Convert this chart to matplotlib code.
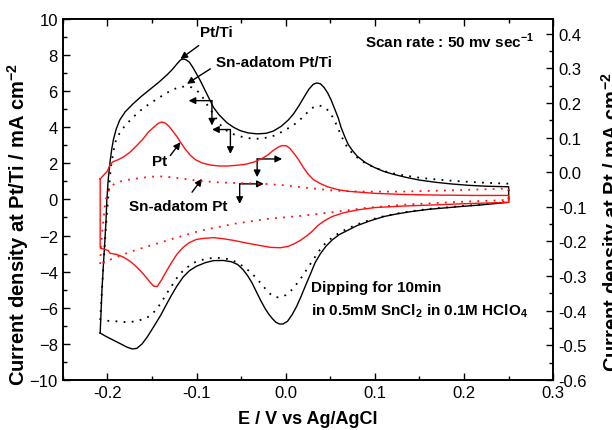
import numpy as np
import matplotlib
matplotlib.use("Agg")
import matplotlib.pyplot as plt
from matplotlib.ticker import MultipleLocator

plt.rcParams['font.family'] = ['Liberation Sans', 'DejaVu Sans']
plt.rcParams['mathtext.fontset'] = 'custom'
plt.rcParams['mathtext.rm'] = 'Liberation Sans'
plt.rcParams['mathtext.bf'] = 'Liberation Sans:bold'

# Pt/Ti, solid black (left axis, mA cm-2): anodic then cathodic sweep
ptti_E = [-0.208, -0.207, -0.206, -0.2045, -0.203, -0.2015, -0.2005, -0.199, -0.197, -0.195,
          -0.193, -0.190, -0.186, -0.180, -0.171, -0.162, -0.152, -0.142, -0.133, -0.127,
          -0.122, -0.118, -0.115, -0.112, -0.108, -0.104, -0.100, -0.096, -0.092, -0.086,
          -0.081, -0.075, -0.066, -0.058, -0.051, -0.042, -0.032, -0.022, -0.014, -0.005,
          0.003, 0.009, 0.015, 0.021, 0.026, 0.031, 0.035, 0.039, 0.043, 0.047,
          0.051, 0.055, 0.059, 0.062, 0.066, 0.070, 0.075, 0.080, 0.089, 0.099,
          0.110, 0.120, 0.135, 0.150, 0.168, 0.185, 0.205, 0.225, 0.250,
          0.250, 0.220, 0.190, 0.160, 0.140, 0.125, 0.110, 0.095, 0.080, 0.070,
          0.060, 0.052, 0.045, 0.039, 0.033, 0.028, 0.022, 0.017, 0.012, 0.007,
          0.002, -0.003, -0.007, -0.011, -0.015, -0.019, -0.023, -0.028, -0.033, -0.038,
          -0.043, -0.048, -0.054, -0.061, -0.070, -0.081, -0.090, -0.100, -0.108, -0.115,
          -0.122, -0.128, -0.133, -0.140, -0.148, -0.155, -0.161, -0.167, -0.172, -0.178,
          -0.185, -0.193, -0.201, -0.208]
ptti_j = [-7.4, -6.2, -5.0, -3.7, -2.5, -1.2, 0.0, 1.1, 2.06, 2.8,
          3.35, 3.9, 4.4, 4.85, 5.3, 5.7, 6.1, 6.5, 6.9, 7.2,
          7.5, 7.72, 7.78, 7.74, 7.6, 7.3, 6.95, 6.6, 6.2, 5.6,
          5.1, 4.7, 4.25, 3.98, 3.81, 3.68, 3.63, 3.66, 3.78, 4.05,
          4.4, 4.75, 5.2, 5.7, 6.1, 6.38, 6.45, 6.4, 6.2, 5.9,
          5.5, 5.0, 4.5, 4.0, 3.5, 3.05, 2.7, 2.4, 2.05, 1.78,
          1.55, 1.4, 1.22, 1.07, 0.95, 0.86, 0.78, 0.73, 0.7,
          -0.16, -0.3, -0.42, -0.55, -0.68, -0.8, -0.95, -1.18, -1.45, -1.7,
          -1.95, -2.25, -2.6, -3.0, -3.5, -4.1, -4.8, -5.4, -5.95, -6.4,
          -6.75, -6.9, -6.9, -6.8, -6.6, -6.35, -6.05, -5.6, -5.1, -4.6,
          -4.2, -3.88, -3.6, -3.45, -3.38, -3.39, -3.5, -3.7, -3.95, -4.3,
          -4.8, -5.3, -5.75, -6.4, -7.05, -7.6, -8.0, -8.25, -8.28, -8.18,
          -8.0, -7.8, -7.6, -7.4]

# Sn-adatom Pt/Ti, dotted black (left axis)
snptti_E = [-0.208, -0.206, -0.204, -0.202, -0.200, -0.198, -0.196, -0.193, -0.190, -0.184,
            -0.178, -0.170, -0.163, -0.154, -0.144, -0.135, -0.126, -0.118, -0.111, -0.105,
            -0.100, -0.096, -0.091, -0.087, -0.082, -0.077, -0.072, -0.066, -0.058, -0.048,
            -0.036, -0.025, -0.013, -0.002, 0.009, 0.018, 0.025, 0.031, 0.037, 0.042,
            0.047, 0.051, 0.055, 0.059, 0.063, 0.067, 0.072, 0.078, 0.088, 0.100,
            0.115, 0.130, 0.150, 0.170, 0.190, 0.220, 0.250,
            0.250, 0.220, 0.190, 0.160, 0.140, 0.125, 0.110, 0.095, 0.080, 0.070,
            0.060, 0.050, 0.042, 0.036, 0.030, 0.024, 0.018, 0.012, 0.006, 0.000,
            -0.006, -0.011, -0.016, -0.021, -0.027, -0.033, -0.040, -0.048, -0.056, -0.065,
            -0.075, -0.085, -0.094, -0.103, -0.110, -0.116, -0.122, -0.128, -0.134, -0.140,
            -0.146, -0.152, -0.159, -0.168, -0.178, -0.190, -0.200, -0.208]
snptti_j = [-6.68, -5.0, -3.4, -1.8, -0.5, 0.7, 1.8, 2.7, 3.35, 3.85,
            4.2, 4.6, 4.92, 5.25, 5.57, 5.85, 6.1, 6.22, 6.27, 6.2,
            6.05, 5.85, 5.5, 5.15, 4.8, 4.4, 4.05, 3.8, 3.6, 3.45,
            3.35, 3.38, 3.53, 3.8, 4.12, 4.5, 4.85, 5.1, 5.2, 5.15,
            4.95, 4.7, 4.35, 3.9, 3.45, 3.05, 2.7, 2.4, 2.05, 1.75,
            1.5, 1.35, 1.2, 1.1, 1.02, 0.93, 0.87,
            -0.12, -0.28, -0.4, -0.53, -0.66, -0.78, -0.93, -1.13, -1.38, -1.6,
            -1.85, -2.2, -2.55, -2.95, -3.4, -3.85, -4.3, -4.7, -5.05, -5.3,
            -5.42, -5.42, -5.3, -5.05, -4.7, -4.35, -4.0, -3.7, -3.45, -3.3,
            -3.24, -3.26, -3.35, -3.5, -3.75, -4.0, -4.35, -4.8, -5.25, -5.75,
            -6.15, -6.45, -6.62, -6.75, -6.8, -6.75, -6.72, -6.68]

# Pt, solid red (right axis, mA cm-2)
pt_E = [-0.208, -0.204, -0.200, -0.197, -0.194, -0.188, -0.182, -0.175, -0.167, -0.160,
        -0.154, -0.148, -0.143, -0.139, -0.135, -0.131, -0.127, -0.122, -0.118, -0.113,
        -0.107, -0.101, -0.094, -0.085, -0.075, -0.065, -0.055, -0.045, -0.036, -0.027,
        -0.020, -0.014, -0.008, -0.004, 0.001, 0.005, 0.010, 0.015, 0.020, 0.025,
        0.031, 0.039, 0.047, 0.058, 0.070, 0.085, 0.100, 0.130, 0.170, 0.210, 0.250,
        0.250, 0.210, 0.170, 0.130, 0.100, 0.080, 0.065, 0.052, 0.043, 0.036,
        0.030, 0.024, 0.017, 0.010, 0.003, -0.006, -0.017, -0.028, -0.043, -0.058,
        -0.070, -0.081, -0.092, -0.100, -0.108, -0.115, -0.122, -0.129, -0.134, -0.139,
        -0.144, -0.148, -0.152, -0.156, -0.162, -0.167, -0.174, -0.182, -0.190, -0.197,
        -0.199, -0.204, -0.208, -0.208]
pt_j = [-0.019, -0.008, 0.003, 0.021, 0.030, 0.036, 0.044, 0.057, 0.077, 0.096,
        0.116, 0.130, 0.141, 0.145, 0.142, 0.133, 0.120, 0.103, 0.087, 0.068,
        0.049, 0.036, 0.027, 0.021, 0.018, 0.018, 0.020, 0.023, 0.029, 0.039,
        0.050, 0.063, 0.073, 0.077, 0.076, 0.068, 0.052, 0.034, 0.013, -0.005,
        -0.021, -0.033, -0.042, -0.050, -0.055, -0.058, -0.061, -0.064, -0.066, -0.067, -0.067,
        -0.087, -0.090, -0.094, -0.098, -0.102, -0.109, -0.117, -0.128, -0.141, -0.154,
        -0.170, -0.183, -0.196, -0.206, -0.214, -0.218, -0.217, -0.212, -0.205, -0.197,
        -0.192, -0.189, -0.191, -0.194, -0.203, -0.217, -0.237, -0.265, -0.287, -0.310,
        -0.330, -0.329, -0.318, -0.305, -0.287, -0.274, -0.258, -0.245, -0.237, -0.234,
        -0.226, -0.222, -0.219, -0.019]

# Sn-adatom Pt, dotted red (right axis)
snpt_E = [-0.208, -0.2075, -0.207, -0.206, -0.205, -0.204, -0.203, -0.202, -0.200, -0.197,
          -0.192, -0.186, -0.175, -0.163, -0.152, -0.141, -0.130, -0.118, -0.096, -0.077,
          -0.058, -0.040, -0.021, 0.000, 0.017, 0.035, 0.054, 0.073, 0.092, 0.130,
          0.190, 0.250,
          0.250, 0.190, 0.130, 0.090, 0.054, 0.017, -0.021, -0.058, -0.096, -0.133,
          -0.171, -0.190, -0.208]
snpt_j = [-0.265, -0.235, -0.210, -0.180, -0.155, -0.128, -0.104, -0.082, -0.062, -0.045,
          -0.033, -0.027, -0.021, -0.017, -0.013, -0.012, -0.014, -0.018, -0.025, -0.029,
          -0.031, -0.032, -0.034, -0.038, -0.043, -0.048, -0.053, -0.055, -0.056, -0.056,
          -0.052, -0.047,
          -0.080, -0.086, -0.094, -0.103, -0.115, -0.126, -0.135, -0.149, -0.169, -0.197,
          -0.227, -0.245, -0.265]

fig = plt.figure(figsize=(6.12, 4.31), dpi=100)
ax = fig.add_axes([0.1025, 0.116, 0.8015, 0.838])
ax2 = ax.twinx()

ax.plot(ptti_E, ptti_j, color='black', lw=1.0)
ax.plot(snptti_E, snptti_j, color='black', lw=1.3, ls=(0, (1, 3.5)))
ax2.plot(pt_E, pt_j, color='#ff1010', lw=1.0)
ax2.plot(snpt_E, snpt_j, color='#ff1010', lw=1.3, ls=(0, (1, 3.5)))

ax.set_xlim(-0.25, 0.3)
ax.set_ylim(-10, 10)
ax2.set_ylim(-0.6, 0.443)
ax.xaxis.set_major_locator(MultipleLocator(0.1))
ax.xaxis.set_minor_locator(MultipleLocator(0.05))
ax.yaxis.set_major_locator(MultipleLocator(2))
ax.yaxis.set_minor_locator(MultipleLocator(1))
ax2.yaxis.set_major_locator(MultipleLocator(0.1))
ax2.yaxis.set_minor_locator(MultipleLocator(0.05))
ax.xaxis.set_major_formatter(plt.FuncFormatter(lambda v, p: '%.1f' % v))
ax2.yaxis.set_major_formatter(plt.FuncFormatter(lambda v, p: '%.1f' % v))

ax.tick_params(which='both', direction='in', top=True, labelsize=12, width=1.0)
ax.tick_params(which='major', length=5)
ax.tick_params(which='minor', length=3)
ax2.tick_params(which='both', direction='in', labelsize=12, width=1.0)
ax2.tick_params(which='major', length=5)
ax2.tick_params(which='minor', length=3)
for a in (ax, ax2):
    for s in a.spines.values():
        s.set_linewidth(1.2)

ax.set_xlabel('E / V vs Ag/AgCl', fontsize=13, fontweight='bold', labelpad=7)
fig.text(0.030, 0.478, r'Current density at Pt/Ti / mA cm$^{\mathbf{-2}}$', rotation=90,
         fontsize=14.5, fontweight='bold', ha='center', va='center')
fig.text(0.979, 0.485, r'Current density at Pt / mA cm$^{\mathbf{-2}}$', rotation=90,
         fontsize=14.5, fontweight='bold', ha='left', va='center')

arw = dict(arrowstyle='-|>', color='black', lw=1.0, mutation_scale=10, shrinkA=0, shrinkB=0)
tfont = dict(fontsize=11, fontweight='bold')

ax.annotate('', xy=(-0.118, 7.78), xytext=(-0.0975, 8.52), arrowprops=arw)
ax.text(-0.0775, 9.28, 'Pt/Ti', ha='center', va='center', **tfont)
ax.annotate('', xy=(-0.1107, 6.4), xytext=(-0.0845, 7.23), arrowprops=arw)
ax.text(-0.0787, 7.62, 'Sn-adatom Pt/Ti', ha='left', va='center', **tfont)
ax.annotate('', xy=(-0.118, 3.17), xytext=(-0.1294, 2.43), arrowprops=arw)
ax.text(-0.1418, 2.1, 'Pt', ha='center', va='center', **tfont)
ax.annotate('', xy=(-0.0938, 1.14), xytext=(-0.105, 0.40), arrowprops=arw)
ax.text(-0.1204, -0.38, 'Sn-adatom Pt', ha='center', va='center', **tfont)

# peak shift markers
steps = [(-0.0827, 5.47, -0.1089, 4.09),
         (-0.062, 3.87, -0.0826, 2.52),
         (-0.032, 2.24, -0.004, 1.23),
         (-0.0516, 0.86, -0.0246, -0.25)]
for cx, cy, hx, vy in steps:
    ax.annotate('', xy=(hx, cy), xytext=(cx, cy), arrowprops=arw)
    ax.annotate('', xy=(cx, vy), xytext=(cx, cy), arrowprops=arw)

ax.text(0.2787, 8.8, r'Scan rate : 50 mv sec$^{\mathbf{-1}}$', ha='right', va='center', **tfont)
ax.text(0.028, -4.85, 'Dipping for 10min', ha='left', va='center', **tfont)
ax.text(0.028, -6.12, r'in 0.5mM SnCl$_{\mathbf{2}}$ in 0.1M HClO$_{\mathbf{4}}$', ha='left',
        va='center', **tfont)

fig.savefig('out.png', dpi=100)
